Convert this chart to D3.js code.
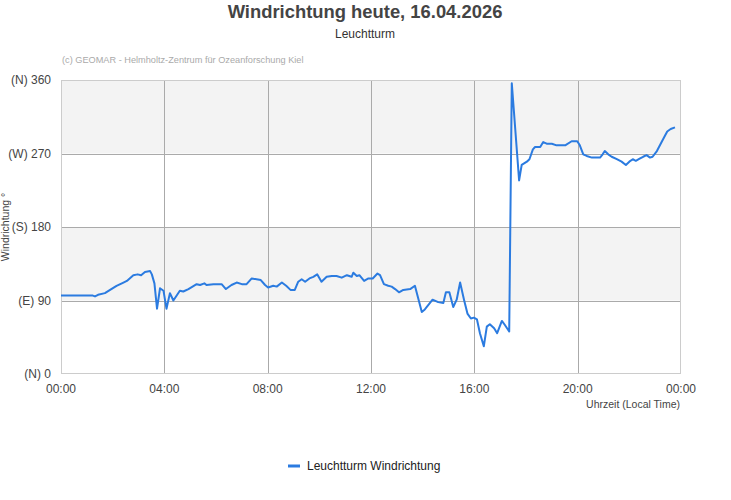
<!DOCTYPE html>
<html>
<head>
<meta charset="utf-8">
<script src="https://cdn.jsdelivr.net/npm/d3@7"></script>
<style>
  body { margin: 0; background: #fff; }
  svg { display: block; font-family: "Liberation Sans", Arial, sans-serif; }
  .tick-label { font-size: 12px; fill: #444; }
</style>
</head>
<body>
<svg id="chart" width="731" height="500"></svg>
<script>
/* ── Data ─────────────────────────────────────────────────────────────────── */

const TIMES = [
  "00:00", "01:14", "01:19", "01:26", "01:42", "01:54", "02:09", "02:25", "02:33", "02:48",
  "02:58", "03:06", "03:15", "03:27", "03:31", "03:37", "03:43", "03:50", "03:58", "04:05",
  "04:13", "04:21", "04:36", "04:44", "04:56", "05:15", "05:23", "05:33", "05:38", "05:54",
  "06:13", "06:23", "06:36", "06:48", "07:00", "07:11", "07:23", "07:34", "07:44", "07:54",
  "08:01", "08:13", "08:21", "08:33", "08:43", "08:53", "09:03", "09:11", "09:19", "09:27",
  "09:37", "09:46", "09:55", "10:05", "10:17", "10:29", "10:40", "10:52", "11:04", "11:15",
  "11:19", "11:27", "11:33", "11:44", "11:54", "12:04", "12:15", "12:21", "12:30", "12:40",
  "12:48", "12:56", "13:05", "13:15", "13:31", "13:42", "13:58", "14:05", "14:23", "14:36",
  "14:48", "14:54", "15:02", "15:11", "15:19", "15:27", "15:36", "15:44", "15:52", "15:59",
  "16:06", "16:13", "16:22", "16:29", "16:36", "16:46", "16:53", "17:04", "17:11", "17:21",
  "17:27", "17:44", "17:50", "18:02", "18:08", "18:16", "18:21", "18:33", "18:40", "18:48",
  "19:00", "19:11", "19:31", "19:46", "19:59", "20:05", "20:13", "20:21", "20:33", "20:52",
  "20:58", "21:03", "21:11", "21:19", "21:31", "21:42", "21:52", "22:00", "22:08", "22:15",
  "22:25", "22:32", "22:40", "22:48", "22:54", "23:04", "23:15", "23:23", "23:28", "23:36",
  "23:46",
];

const DIRECTION = [
  96, 96, 95, 97, 99, 103, 108, 112, 114, 121,
  122, 121, 125, 126, 122, 111, 80, 105, 102, 80,
  99, 90, 102, 101, 104, 110, 109, 111, 109, 110,
  110, 104, 109, 112, 110, 110, 117, 116, 115, 109,
  106, 108, 107, 112, 108, 103, 103, 113, 116, 113,
  117, 119, 122, 113, 119, 120, 120, 118, 121, 119,
  124, 120, 121, 114, 117, 117, 123, 121, 110, 108,
  107, 104, 100, 103, 104, 108, 76, 79, 91, 88,
  87, 100, 100, 82, 91, 112, 91, 74, 68, 69,
  67, 50, 34, 58, 61, 56, 50, 65, 60, 52,
  356, 237, 256, 260, 263, 275, 278, 278, 284, 282,
  282, 280, 280, 285, 285, 280, 269, 267, 265, 265,
  269, 273, 269, 266, 263, 260, 256, 260, 263, 261,
  264, 266, 268, 265, 266, 273, 284, 292, 297, 300,
  302,
];

const Y_TICKS = [0, 90, 180, 270, 360];
const Y_LABELS = ["(N) 0", "(E) 90", "(S) 180", "(W) 270", "(N) 360"];
const X_TICK_HOURS = [0, 4, 8, 12, 16, 20, 24];

const TITLE = "Windrichtung heute, 16.04.2026";
const SUBTITLE = "Leuchtturm";
const CREDIT = "(c) GEOMAR - Helmholtz-Zentrum für Ozeanforschung Kiel";
const SERIES_NAME = "Leuchtturm Windrichtung";
const LINE_COLOR = "#2b7be0";

/* ── Helpers ──────────────────────────────────────────────────────────────── */

const day = new Date(2026, 3, 16);
const toDate = (hhmm) => {
  const [h, m] = hhmm.split(":").map(Number);
  return new Date(2026, 3, 16, h, m);
};
const points = TIMES.map((t, i) => ({ t: toDate(t), v: DIRECTION[i] }));

/* ── Chart ────────────────────────────────────────────────────────────────── */

const svg = d3.select("#chart");
const m = { top: 80, left: 61, width: 620, height: 294 };

const x = d3
  .scaleTime()
  .domain([day, d3.timeDay.offset(day, 1)])
  .range([m.left, m.left + m.width]);
const y = d3.scaleLinear().domain([0, 360]).range([m.top + m.height, m.top]);

// Titles
svg.append("text")
  .attr("x", 365).attr("y", 18)
  .attr("text-anchor", "middle")
  .attr("font-size", 18.4).attr("font-weight", "bold")
  .attr("fill", "#444")
  .text(TITLE);

svg.append("text")
  .attr("x", 365).attr("y", 38)
  .attr("text-anchor", "middle")
  .attr("font-size", 12).attr("fill", "#333")
  .text(SUBTITLE);

svg.append("text")
  .attr("x", 62).attr("y", 63)
  .attr("font-size", 9.2).attr("fill", "#aaa")
  .text(CREDIT);

// Alternating bands
d3.pairs(Y_TICKS).forEach(([a, b], i) => {
  svg.append("rect")
    .attr("x", m.left).attr("y", y(b))
    .attr("width", m.width).attr("height", y(a) - y(b))
    .attr("fill", i % 2 === 1 ? "#f3f3f3" : "#fff");
});

// Gridlines
const grid = svg.append("g").attr("stroke", "#aaa").attr("stroke-width", 1);
X_TICK_HOURS.slice(1, -1).forEach((h) => {
  const px = Math.round(x(d3.timeHour.offset(day, h))) + 0.5;
  grid.append("line")
    .attr("x1", px).attr("x2", px)
    .attr("y1", m.top).attr("y2", m.top + m.height);
});
Y_TICKS.slice(1, -1).forEach((v) => {
  const py = Math.round(y(v)) + 0.5;
  grid.append("line")
    .attr("x1", m.left).attr("x2", m.left + m.width)
    .attr("y1", py).attr("y2", py);
});

// Frame
svg.append("rect")
  .attr("x", m.left + 0.5).attr("y", m.top + 0.5)
  .attr("width", m.width - 1).attr("height", m.height - 1)
  .attr("fill", "none").attr("stroke", "#ccc");

// Y labels
Y_TICKS.forEach((v, i) => {
  svg.append("text")
    .attr("class", "tick-label")
    .attr("x", 51).attr("y", y(v) + 4)
    .attr("text-anchor", "end")
    .text(Y_LABELS[i]);
});

// X labels
X_TICK_HOURS.forEach((h) => {
  svg.append("text")
    .attr("class", "tick-label")
    .attr("x", x(d3.timeHour.offset(day, h)))
    .attr("y", 393)
    .attr("text-anchor", "middle")
    .text(d3.timeFormat("%H:%M")(d3.timeHour.offset(day, h)));
});

svg.append("text")
  .attr("x", 680).attr("y", 408)
  .attr("text-anchor", "end")
  .attr("font-size", 10.5).attr("fill", "#444")
  .text("Uhrzeit (Local Time)");

svg.append("text")
  .attr("transform", `translate(9,${m.top + m.height / 2}) rotate(-90)`)
  .attr("text-anchor", "middle")
  .attr("font-size", 10.5).attr("fill", "#444")
  .text("Windrichtung °");

// Line
const line = d3.line().x((d) => x(d.t)).y((d) => y(d.v));
svg.append("path")
  .datum(points)
  .attr("d", line)
  .attr("fill", "none")
  .attr("stroke", LINE_COLOR)
  .attr("stroke-width", 2)
  .attr("stroke-linejoin", "round");

// Legend
svg.append("line")
  .attr("x1", 288).attr("x2", 300)
  .attr("y1", 466).attr("y2", 466)
  .attr("stroke", LINE_COLOR).attr("stroke-width", 3);
svg.append("text")
  .attr("x", 307).attr("y", 470)
  .attr("font-size", 12).attr("fill", "#222")
  .text(SERIES_NAME);
</script>
</body>
</html>
